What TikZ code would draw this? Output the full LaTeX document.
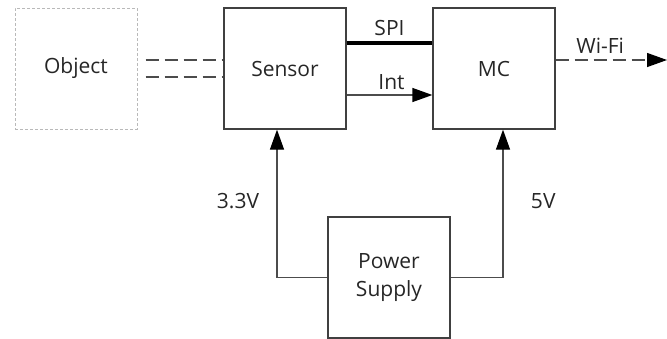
\documentclass[tikz,border=0pt]{standalone}
\usepackage{fontspec}
\setmainfont{Open Sans}
\usetikzlibrary{arrows.meta}

\begin{document}
\begin{tikzpicture}[x=1pt, y=-1pt,
                    font=\fontsize{21}{28}\selectfont,
                    text=black!85,
                    block/.style={draw=black!75, line width=1.3pt, inner sep=0pt,
                                  minimum width=122pt, minimum height=121pt},
                    wire/.style={draw=black!70, line width=1.3pt},
                    tip/.style={-{Triangle[length=20pt, width=14pt, color=black, fill=black]}},
                    radio/.style={dash pattern=on 13pt off 6pt}]
  \useasboundingbox (0,0) rectangle (667,338);
  % bloki
  \node[block, draw=gray!55, line width=1pt, dash pattern=on 3pt off 2pt] (object) at (76,68.5) {Object};
  \node[block] (sensor) at (285,68.5) {Sensor};
  \node[block] (mc) at (494,68.5) {MC};
  \node[block, align=center] (power) at (389,277.5) {Power\\Supply};
  \coordinate (wifi) at (667,60);
  % objekts -- sensors
  \draw[wire, radio] ([xshift=8pt, yshift=8.5pt]object.east) -- ([yshift=8.5pt]sensor.west);
  \draw[wire, radio] ([xshift=8pt, yshift=-8.5pt]object.east) -- ([yshift=-8.5pt]sensor.west);
  % sensors -- MC
  \draw[line width=3.5pt] ([yshift=25.5pt]sensor.east) -- ([yshift=25.5pt]mc.west)
        node[midway, above=2pt] {SPI};
  \draw[wire, tip] ([yshift=-26.5pt]sensor.east) -- ([yshift=-26.5pt]mc.west)
        node[midway, above=1pt, xshift=2pt] {Int};
  \draw[wire, radio, tip] ([yshift=8.5pt]mc.east) -- (wifi)
        node[pos=0.4, above=3pt] {Wi-Fi};
  % barošana
  \draw[wire, tip] (power.west) -| ([xshift=-8pt]sensor.south)
        node[pos=0.76, left=14pt] {3.3V};
  \draw[wire, tip] (power.east) -| ([xshift=9pt]mc.south)
        node[pos=0.76, right=24pt] {5V};
\end{tikzpicture}
\end{document}
